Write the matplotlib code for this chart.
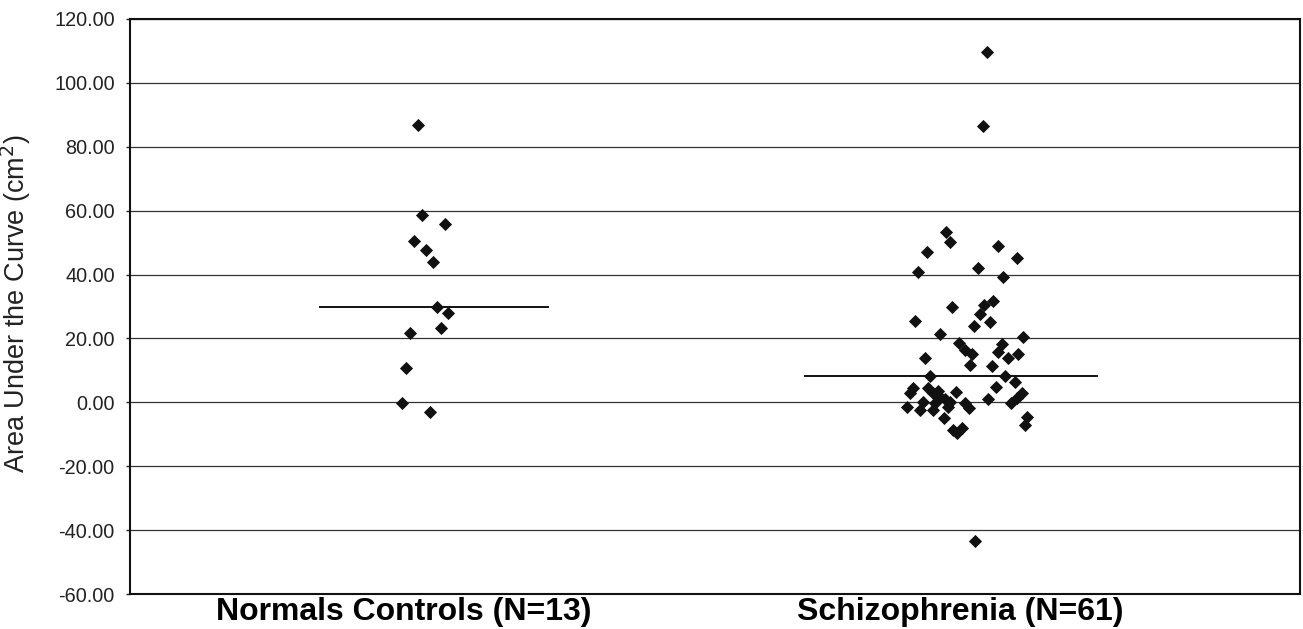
import numpy as np
import matplotlib
matplotlib.use("Agg")
import matplotlib.pyplot as plt
from matplotlib.ticker import FormatStrFormatter

plt.rcParams['axes.unicode_minus'] = False
plt.rcParams['font.family'] = ['Liberation Sans', 'DejaVu Sans']

# ---- data ----
categories = ["Normals Controls (N=13)", "Schizophrenia (N=61)"]

normals_values = [86.8, 58.6, 55.8, 50.6, 47.7, 44.0, 29.9, 27.9, 23.2, 21.6,
                  10.6, -0.1, -3.1]
normals_jitter = [0.026, 0.032, 0.074, 0.018, 0.039, 0.053, 0.060, 0.080,
                  0.067, 0.011, 0.004, -0.004, 0.046]

schizo_values = [109.7, 86.5, -43.4, 53.4, 50.3, 47.0, 48.9, 45.1, 40.7, 42.1,
                 39.3, 29.7, 31.8, 30.5, 27.6, 25.5, 25.2, 23.8, 21.3, 20.3,
                 18.5, 16.4, 15.0, 18.3, 15.8, 15.1, 13.8, 13.8, 11.7, 11.4,
                 8.1, 8.3, 6.5, 4.9, 0.9, 2.8, 1.3, -0.3, -4.7, -7.1,
                 4.4, 2.8, 4.6, 2.8, 1.8, 1.0, 0.2, 3.3, -1.4, 0.2,
                 -2.4, -2.4, -0.3, -0.3, -1.9, -5.0, -8.7, -8.1, -9.7, 3.6,
                 -1.5]
schizo_jitter = [0.049, 0.041, 0.027, -0.025, -0.018, -0.060, 0.068, 0.103, -0.075, 0.032,
                 0.078, -0.014, 0.060, 0.043, 0.036, -0.081, 0.054, 0.025, -0.036, 0.114,
                 -0.001, 0.009, 0.021, 0.075, 0.069, 0.105, 0.087, -0.063, 0.018, 0.057,
                 -0.054, 0.081, 0.099, 0.064, 0.051, 0.111, 0.102, 0.092, 0.120, 0.117,
                 -0.084, -0.090, -0.057, -0.048, -0.036, -0.027, -0.018, -0.007, -0.096, -0.067,
                 -0.072, -0.049, -0.045, 0.009, 0.017, -0.029, -0.012, 0.003, -0.005, -0.040,
                 -0.022]

yticks = [-60, -40, -20, 0, 20, 40, 60, 80, 100, 120]

# ---- figure ----
W, H, DPI = 1303, 629, 100
fig = plt.figure(figsize=(W / DPI, H / DPI), dpi=DPI)
ax = fig.add_axes([130 / W, 1 - 594 / H, (1300 - 130) / W, (594 - 19) / H])

positions = [1, 2]
groups = [(normals_values, normals_jitter), (schizo_values, schizo_jitter)]
line_extents = [(-0.151, 0.259), (-0.279, 0.246)]

for pos, (vals, jit), (lo, hi) in zip(positions, groups, line_extents):
    xs = pos + np.asarray(jit)
    ax.plot(xs, vals, linestyle='none', marker='D', markersize=6.0,
            markerfacecolor='#111111', markeredgecolor='#111111',
            markeredgewidth=0.6, zorder=3)
    med = np.median(vals)
    ax.plot([pos + lo, pos + hi], [med, med], color='#111111', lw=1.4, zorder=2)

ax.set_ylim(-60, 120)
ax.set_xlim(0.5072, 2.6115)
ax.set_yticks(yticks)
ax.yaxis.set_major_formatter(FormatStrFormatter('%.2f'))
ax.yaxis.grid(True, color='#333333', linewidth=0.9)
ax.set_axisbelow(True)

ax.set_xticks(positions)
ax.set_xticklabels(categories, fontsize=23, fontweight='bold')
ax.tick_params(axis='x', length=0, pad=2)
ax.tick_params(axis='y', labelsize=14.3, length=3, width=1, pad=8,
               colors='#222222')

for s in ax.spines.values():
    s.set_linewidth(1.5)
    s.set_color('#111111')

ax.set_ylabel("Area Under the Curve (cm$^{2}$)", fontsize=19.5, color='#222222')
ax.yaxis.set_label_coords(-0.083, 0.505)

fig.savefig("out.png", dpi=DPI, facecolor='white')
